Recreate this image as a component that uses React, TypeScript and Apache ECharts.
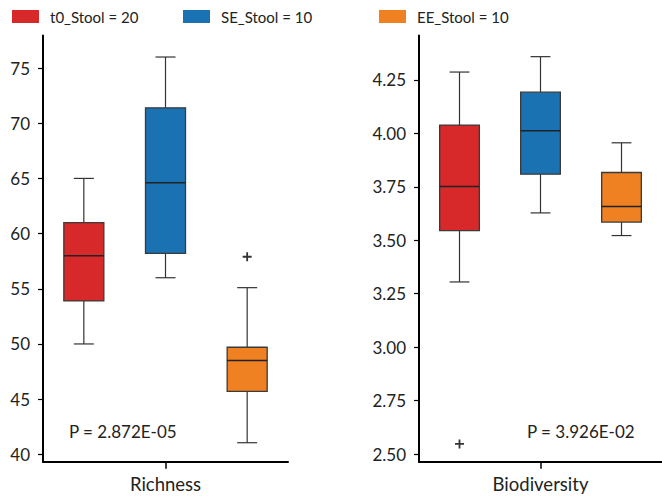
import React, { useEffect, useRef } from "react";
import * as echarts from "echarts";

const groups = ["t0_Stool = 20", "SE_Stool = 10", "EE_Stool = 10"];
const groupKeys = ["t0", "SE", "EE"];
const colors = ["#d7292a", "#1a72b2", "#ef8122"];

// [min, Q1, median, Q3, max]
const richness = [
  [50.0, 53.9, 58.0, 61.0, 65.0],
  [56.0, 58.2, 64.6, 71.4, 76.0],
  [41.05, 45.7, 48.5, 49.7, 55.1],
];
const richnessOutliers = [[2, 57.9]];
const richnessTicks = [40, 45, 50, 55, 60, 65, 70, 75];

const biodiversity = [
  [3.305, 3.545, 3.751, 4.039, 4.287],
  [3.628, 3.809, 4.012, 4.193, 4.359],
  [3.522, 3.585, 3.658, 3.817, 3.956],
];
const biodiversityOutliers = [[0, 2.547]];
const biodiversityTicks = [2.5, 2.75, 3.0, 3.25, 3.5, 3.75, 4.0, 4.25];

const pValues = ["P = 2.872E-05", "P = 3.926E-02"];
const metricNames = ["Richness", "Biodiversity"];

const FONT = "Lato";
const TEXT = "#222";

const renderBox = (params: any, api: any) => {
  const i = api.value(0);
  const pts = [1, 2, 3, 4, 5].map((d) => api.coord([i, api.value(d)]));
  const band = api.size([1, 0])[0];
  const bw = band * 0.49;
  const cw = bw / 2;
  const cx = pts[0][0];
  const stroke = "#333";
  const lw = 1.2;
  return {
    type: "group",
    children: [
      { type: "line", shape: { x1: cx, y1: pts[4][1], x2: cx, y2: pts[3][1] }, style: { stroke, lineWidth: lw } },
      { type: "line", shape: { x1: cx, y1: pts[1][1], x2: cx, y2: pts[0][1] }, style: { stroke, lineWidth: lw } },
      { type: "line", shape: { x1: cx - cw / 2, y1: pts[4][1], x2: cx + cw / 2, y2: pts[4][1] }, style: { stroke, lineWidth: lw } },
      { type: "line", shape: { x1: cx - cw / 2, y1: pts[0][1], x2: cx + cw / 2, y2: pts[0][1] }, style: { stroke, lineWidth: lw } },
      {
        type: "rect",
        shape: { x: cx - bw / 2, y: pts[3][1], width: bw, height: pts[1][1] - pts[3][1] },
        style: { fill: api.visual("color"), stroke: "#3a3a3a", lineWidth: 1.3 },
      },
      { type: "line", shape: { x1: cx - bw / 2, y1: pts[2][1], x2: cx + bw / 2, y2: pts[2][1] }, style: { stroke: "#222", lineWidth: 1.5 } },
    ],
  };
};

const plusPath = "path://M4,0 L6,0 L6,4 L10,4 L10,6 L6,6 L6,10 L4,10 L4,6 L0,6 L0,4 L4,4 Z";

export default function App() {
  const ref = useRef<HTMLDivElement>(null);
  useEffect(() => {
    if (!ref.current) return;
    const chart = echarts.init(ref.current, undefined, { renderer: "svg" });

    const datasets = [richness, biodiversity];
    const outliers = [richnessOutliers, biodiversityOutliers];
    const series: any[] = [];
    for (let g = 0; g < 2; g++) {
      for (let k = 0; k < 3; k++) {
        series.push({
          type: "custom",
          name: groups[k],
          xAxisIndex: g,
          yAxisIndex: g,
          itemStyle: { color: colors[k] },
          renderItem: renderBox,
          encode: { x: 0, y: [1, 2, 3, 4, 5] },
          data: [[k, ...datasets[g][k]]],
          z: 2,
        });
      }
      series.push({
        type: "scatter",
        name: "outliers" + g,
        xAxisIndex: g,
        yAxisIndex: g,
        symbol: plusPath,
        symbolSize: 9,
        itemStyle: { color: "#000" },
        data: outliers[g],
        z: 3,
      });
    }

    const legendLefts = [12, 183, 379];
    const legends = groups.map((name, k) => ({
      left: legendLefts[k],
      top: 9,
      padding: 0,
      icon: "rect",
      itemWidth: 27,
      itemHeight: 13,
      selectedMode: false,
      data: [{ name, itemStyle: { color: colors[k], borderWidth: 0 } }],
      textStyle: { fontFamily: FONT, fontSize: 15, color: TEXT, padding: [0, 0, 0, 6] },
    }));

    const axisLine = { show: true, lineStyle: { color: "#000", width: 2 } };
    const yTicks = [richnessTicks, biodiversityTicks];
    const yMin = [39.33, 2.464];
    const yMax = [77.95, 4.458];

    chart.setOption({
      animation: false,
      backgroundColor: "#fff",
      legend: legends,
      grid: [
        { left: 43, top: 35.5, width: 245, bottom: 41.3 },
        { left: 419, top: 35.5, width: 245, bottom: 41.3 },
      ],
      xAxis: [0, 1].map((g) => ({
        type: "category",
        gridIndex: g,
        data: groupKeys,
        boundaryGap: true,
        axisLine,
        axisTick: {
          show: true,
          alignWithLabel: true,
          interval: (i: number) => i === 1,
          length: 7,
          lineStyle: { color: "#000", width: 1.5 },
        },
        axisLabel: {
          interval: (i: number) => i === 1,
          formatter: () => metricNames[g],
          fontFamily: FONT,
          fontSize: 18.5,
          color: TEXT,
          margin: 13,
        },
        splitLine: { show: false },
      })),
      yAxis: [0, 1].map((g) => ({
        type: "value",
        gridIndex: g,
        min: yMin[g],
        max: yMax[g],
        axisLine,
        axisTick: { show: true, length: 5, customValues: yTicks[g], lineStyle: { color: "#000", width: 1.2 } },
        axisLabel: {
          customValues: yTicks[g],
          formatter: (v: number) => (g === 0 ? String(Math.round(v)) : v.toFixed(2)),
          fontFamily: FONT,
          fontSize: 17,
          color: TEXT,
          margin: 13,
        },
        splitLine: { show: false },
      })),
      graphic: [
        {
          type: "text",
          left: 69,
          top: 423,
          style: { text: pValues[0], fontFamily: FONT, fontSize: 17, fill: TEXT },
        },
        {
          type: "text",
          left: 527,
          top: 423,
          style: { text: pValues[1], fontFamily: FONT, fontSize: 17, fill: TEXT },
        },
      ],
      series,
    });
    return () => chart.dispose();
  }, []);
  return (
    <div
      ref={ref}
      style={{ position: "absolute", left: 0, top: 0, width: 662, height: 503 }}
    />
  );
}
